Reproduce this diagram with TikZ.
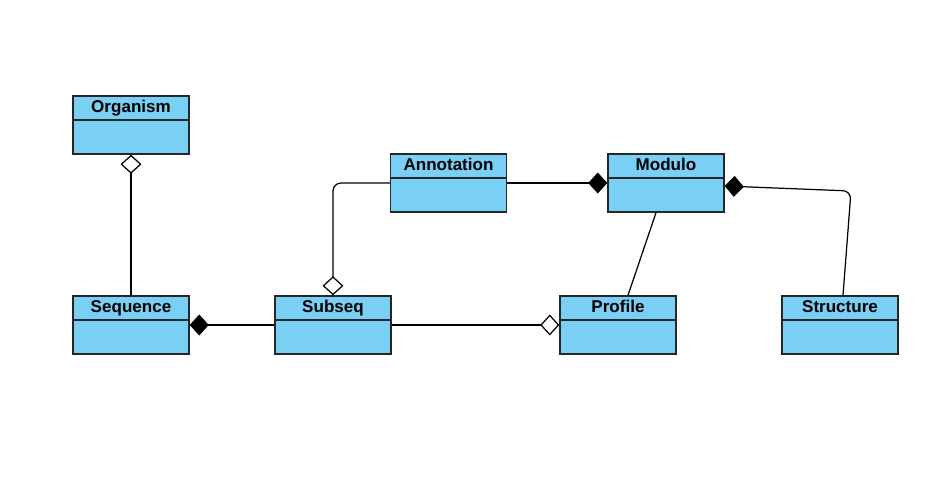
\documentclass[tikz,border=0pt]{standalone}
\usepackage{fontspec}
\setmainfont{Liberation Sans}
\usetikzlibrary{arrows.meta}
\definecolor{classblue}{RGB}{122,207,245}

\tikzset{
	classbox/.style={draw=black!85, line width=0.85pt, fill=classblue, minimum width=2.32cm, minimum height=1.16cm, inner sep=0pt},
	classname/.style={anchor=base, inner sep=0pt, font=\bfseries\fontsize{9.7}{11}\selectfont},
	assoc/.style={line width=0.7pt},
	comp/.style={assoc, {Diamond[length=0.38cm, width=0.42cm]}-},
	aggr/.style={assoc, {Diamond[open, fill=white, length=0.38cm, width=0.42cm]}-}
}

\newcommand{\umlclass}[3]{
	\node[classbox] (#1) at (#2) {};
	\draw[draw=black!85, line width=1pt] ([yshift=-0.5cm]#1.north west) -- ([yshift=-0.5cm]#1.north east);
	\node[classname] at ([yshift=-0.35cm]#1.north) {#3};
}

\begin{document}
\begin{tikzpicture}[x=0.02cm, y=-0.02cm]
	\useasboundingbox (0,0) rectangle (946,490);
	\umlclass{organism}{131,125}{Organism}
	\umlclass{sequence}{131,325}{Sequence}
	\umlclass{subseq}{333,325}{Subseq}
	\umlclass{annotation}{448.5,183}{Annotation}
	\umlclass{modulo}{666,183}{Modulo}
	\umlclass{profile}{618,325}{Profile}
	\umlclass{structure}{840,325}{Structure}
	\coordinate (annbend) at (333,183);
	\coordinate (strbend) at (851,191);
	\draw[aggr] (organism) -- (sequence);
	\draw[comp] (sequence) -- (subseq);
	\draw[aggr] (profile) -- (subseq);
	\draw[comp] (modulo) -- (annotation);
	\draw[aggr, rounded corners=0.16cm] (subseq.north) -- (annbend) -- (annotation.west);
	\draw[assoc] ([xshift=-0.2cm]modulo.south) -- ([xshift=0.2cm]profile.north);
	\draw[comp, rounded corners=0.16cm] ([yshift=-0.06cm]modulo.east) -- (strbend) -- ([xshift=0.06cm]structure.north);
\end{tikzpicture}
\end{document}
